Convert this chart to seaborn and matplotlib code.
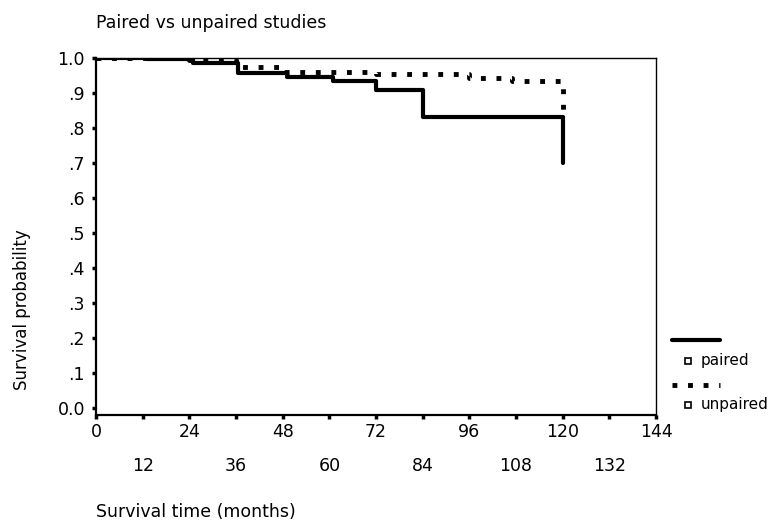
import numpy as np
import pandas as pd
import seaborn as sns
import matplotlib.pyplot as plt
from matplotlib.lines import Line2D

# survival steps (months, probability)
paired_t = [0, 13, 25, 36.5, 49, 61, 72, 84, 120]
paired_s = [1.0, 0.997, 0.986, 0.958, 0.946, 0.935, 0.908, 0.832, 0.70]
unpaired_t = [0, 24, 36, 48, 72, 96, 107, 120]
unpaired_s = [1.0, 0.993, 0.975, 0.96, 0.953, 0.944, 0.933, 0.85]

major_x = [0, 24, 48, 72, 96, 120, 144]
minor_x = [12, 36, 60, 84, 108, 132]
y_ticks = [0.0, 0.1, 0.2, 0.3, 0.4, 0.5, 0.6, 0.7, 0.8, 0.9, 1.0]
y_labels = ['0.0', '.1', '.2', '.3', '.4', '.5', '.6', '.7', '.8', '.9', '1.0']

paired_df = pd.DataFrame({'time': paired_t, 'surv': paired_s})
unpaired_df = pd.DataFrame({'time': unpaired_t, 'surv': unpaired_s})

sns.set_style("white")
plt.rcParams['font.family'] = ['DejaVu Sans']
plt.rcParams['text.color'] = 'black'
plt.rcParams['xtick.color'] = 'black'
plt.rcParams['ytick.color'] = 'black'

fig = plt.figure(figsize=(7.74, 5.32), dpi=100)
ax = fig.add_axes([96 / 774, 1 - 415 / 532, 560 / 774, 357 / 532])

sns.lineplot(data=unpaired_df, x='time', y='surv', ax=ax, color='black',
             drawstyle='steps-post', lw=3.5, linestyle=(0, (1, 2.2)),
             dash_capstyle='butt')
sns.lineplot(data=paired_df, x='time', y='surv', ax=ax, color='black',
             drawstyle='steps-post', lw=3)

ax.set_xlim(0, 144)
ax.set_ylim(-0.02, 1.0)
ax.set_xticks(major_x)
ax.set_xticklabels([str(v) for v in major_x])
ax.set_xticks(minor_x, minor=True)
ax.set_xticklabels([str(v) for v in minor_x], minor=True)
ax.set_yticks(y_ticks)
ax.set_yticklabels(y_labels)

ax.tick_params(axis='both', which='both', direction='out', length=3, width=2.5,
               labelsize=12.5, color='black', labelcolor='black',
               bottom=True, left=True)
ax.tick_params(axis='x', which='major', pad=3)
ax.tick_params(axis='x', which='minor', pad=27)
ax.tick_params(axis='y', pad=5)

for side in ['left', 'bottom']:
    ax.spines[side].set_linewidth(1.6)
for side in ['top', 'right']:
    ax.spines[side].set_linewidth(1.0)
for sp in ax.spines.values():
    sp.set_color('black')

ax.set_xlabel('')
ax.set_ylabel('')
fig.text(96 / 774, 1 - 23 / 532, 'Paired vs unpaired studies', fontsize=12.5,
         ha='left', va='center')
fig.text(22 / 774, 1 - 310 / 532, 'Survival probability', fontsize=12,
         rotation=90, ha='center', va='center')
fig.text(96 / 774, 1 - 512 / 532, 'Survival time (months)', fontsize=12.5,
         ha='left', va='center')

# legend drawn by hand to match the stacked layout
W, H = 774, 532
fig.add_artist(Line2D([672 / W, 720 / W], [1 - 340 / H] * 2, color='black', lw=3,
                      transform=fig.transFigure))
fig.add_artist(Line2D([672 / W, 720 / W], [1 - 385 / H] * 2, color='black', lw=3.5,
                      linestyle=(0, (1, 2.2)), dash_capstyle='butt',
                      transform=fig.transFigure))
for yy, lab in [(361, 'paired'), (405, 'unpaired')]:
    fig.add_artist(Line2D([688 / W], [1 - yy / H], marker='s', markersize=4,
                          markerfacecolor='white', markeredgecolor='black',
                          markeredgewidth=1.2, linestyle='none',
                          transform=fig.transFigure))
    fig.text(701 / W, 1 - yy / H, lab, fontsize=11, ha='left', va='center')

fig.savefig('out.png', dpi=100)
